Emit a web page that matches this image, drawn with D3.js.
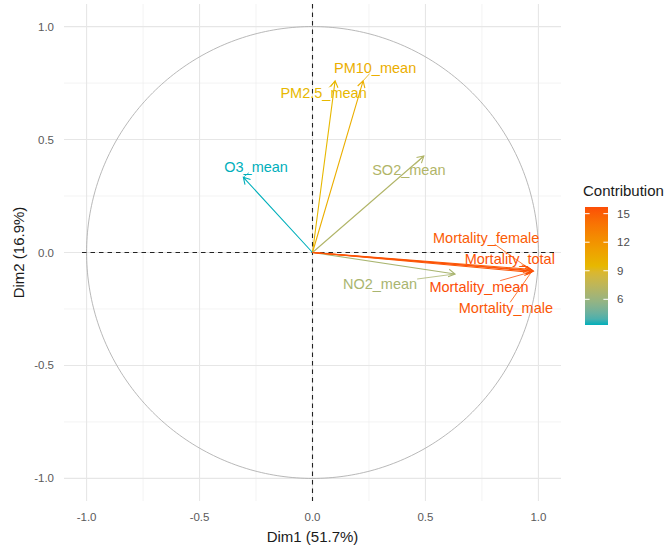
<!DOCTYPE html>
<html>
<head>
<meta charset="utf-8">
<script src="https://cdn.jsdelivr.net/npm/d3@7"></script>
<style>
  html, body { margin: 0; padding: 0; background: #fff; }
  svg { display: block; font-family: "Liberation Sans", Arial, sans-serif; }
</style>
</head>
<body>
<svg id="chart" width="670" height="548"></svg>
<script>
// Variable loadings on the first two principal dimensions
const variables = ["PM2.5_mean", "PM10_mean", "SO2_mean", "O3_mean", "NO2_mean",
                   "Mortality_female", "Mortality_total", "Mortality_mean", "Mortality_male"];
const dim1 = [0.100, 0.224, 0.493, -0.306, 0.631, 0.962, 0.975, 0.978, 0.968];
const dim2 = [0.760, 0.760, 0.427, 0.333, -0.095, -0.074, -0.080, -0.083, -0.088];
// Contribution (%) of each variable to Dim1-Dim2
const contrib = [9.5, 10.2, 6.9, 3.3, 6.6, 15.1, 15.5, 15.7, 15.3];

const axisTicks = [-1.0, -0.5, 0.0, 0.5, 1.0];
const axisTickLabels = ["-1.0", "-0.5", "0.0", "0.5", "1.0"];
const minorTicks = [-0.75, -0.25, 0.25, 0.75];
const legendTicks = [6, 9, 12, 15];
const xTitle = "Dim1 (51.7%)";
const yTitle = "Dim2 (16.9%)";
const legendTitle = "Contribution";

// Label placement (pixel offset of label centre from arrow tip), repelled by hand
const labelOffset = {
  "PM2.5_mean": [-11.5, 12.6],
  "PM10_mean": [12, -13.2],
  "SO2_mean": [-15, 14],
  "O3_mean": [12.7, -10.5],
  "NO2_mean": [-75, 10],
  "Mortality_female": [-43.6, -30.9],
  "Mortality_total": [-23, -11.6],
  "Mortality_mean": [-54.5, 15.4],
  "Mortality_male": [-25.3, 36]
};

const svg = d3.select("#chart");
const panel = { left: 64, right: 561, top: 4, bottom: 501 };

const x = d3.scaleLinear().domain([-1.1, 1.1]).range([panel.left, panel.right]);
const y = d3.scaleLinear().domain([-1.1, 1.1]).range([panel.bottom, panel.top]);

const cExtent = d3.extent(contrib);
const color = d3.scaleLinear()
  .domain([cExtent[0], (cExtent[0] + cExtent[1]) / 2, cExtent[1]])
  .range(["#00AFBB", "#E7B800", "#FC4E07"])
  .interpolate(d3.interpolateLab);

// Grid
const grid = svg.append("g");
grid.selectAll("line.minor-x").data(minorTicks).join("line")
  .attr("x1", d => x(d)).attr("x2", d => x(d))
  .attr("y1", panel.top).attr("y2", panel.bottom)
  .attr("stroke", "#ebebeb").attr("stroke-width", 0.6);
grid.selectAll("line.minor-y").data(minorTicks).join("line")
  .attr("y1", d => y(d)).attr("y2", d => y(d))
  .attr("x1", panel.left).attr("x2", panel.right)
  .attr("stroke", "#ebebeb").attr("stroke-width", 0.6);
grid.selectAll("line.major-x").data(axisTicks).join("line")
  .attr("x1", d => x(d)).attr("x2", d => x(d))
  .attr("y1", panel.top).attr("y2", panel.bottom)
  .attr("stroke", "#e6e6e6").attr("stroke-width", 1.1);
grid.selectAll("line.major-y").data(axisTicks).join("line")
  .attr("y1", d => y(d)).attr("y2", d => y(d))
  .attr("x1", panel.left).attr("x2", panel.right)
  .attr("stroke", "#e6e6e6").attr("stroke-width", 1.1);

// Correlation circle
const circlePts = d3.range(0, 361).map(a => [Math.cos(a * Math.PI / 180), Math.sin(a * Math.PI / 180)]);
svg.append("path")
  .attr("d", d3.line().x(d => x(d[0])).y(d => y(d[1]))(circlePts))
  .attr("fill", "none").attr("stroke", "#a6a6a6").attr("stroke-width", 0.8);

// Reference lines at zero
svg.append("line")
  .attr("x1", panel.left + 18).attr("x2", panel.right - 6)
  .attr("y1", y(0)).attr("y2", y(0))
  .attr("stroke", "#222").attr("stroke-width", 1.1).attr("stroke-dasharray", "4.5,4");
svg.append("line")
  .attr("x1", x(0)).attr("x2", x(0))
  .attr("y1", panel.top).attr("y2", panel.bottom)
  .attr("stroke", "#222").attr("stroke-width", 1.1).attr("stroke-dasharray", "4.5,4");

// Arrows
const rows = variables.map((v, i) => ({ name: v, d1: dim1[i], d2: dim2[i], c: contrib[i] }));
const headLen = 7.5, headAng = Math.PI / 6;
function arrowPath(d) {
  const x0 = x(0), y0 = y(0), x1 = x(d.d1), y1 = y(d.d2);
  const th = Math.atan2(y1 - y0, x1 - x0);
  const ax = x1 - headLen * Math.cos(th - headAng), ay = y1 - headLen * Math.sin(th - headAng);
  const bx = x1 - headLen * Math.cos(th + headAng), by = y1 - headLen * Math.sin(th + headAng);
  return `M${x0},${y0}L${x1},${y1}M${ax},${ay}L${x1},${y1}L${bx},${by}`;
}
svg.append("g").selectAll("path").data(rows).join("path")
  .attr("d", arrowPath)
  .attr("fill", "none")
  .attr("stroke", d => color(d.c))
  .attr("stroke-width", 1.1)
  .attr("stroke-linejoin", "miter");

// Labels with connector segments
const labelG = svg.append("g");
const segG = labelG.append("g");
const texts = labelG.selectAll("text").data(rows).join("text")
  .attr("x", d => x(d.d1) + labelOffset[d.name][0])
  .attr("y", d => y(d.d2) + labelOffset[d.name][1])
  .attr("text-anchor", "middle")
  .attr("dominant-baseline", "central")
  .attr("font-size", 14.5)
  .attr("fill", d => color(d.c))
  .text(d => d.name);

texts.each(function (d) {
  const bb = this.getBBox();
  const tx = x(d.d1), ty = y(d.d2);
  const cx = bb.x + bb.width / 2, cy = bb.y + bb.height / 2;
  const hw = bb.width / 2, hh = bb.height / 2 - 2;
  const dx = cx - tx, dy = cy - ty;
  // fraction along tip->centre where the box edge is reached
  const tX = Math.abs(dx) > 1e-6 ? (Math.abs(dx) - hw) / Math.abs(dx) : -1;
  const tY = Math.abs(dy) > 1e-6 ? (Math.abs(dy) - hh) / Math.abs(dy) : -1;
  const t = Math.max(tX, tY);
  if (t <= 0) return;
  const ex = tx + dx * t, ey = ty + dy * t;
  const len = Math.hypot(ex - tx, ey - ty);
  if (len < 7) return;
  segG.append("line")
    .attr("x1", tx).attr("y1", ty).attr("x2", ex).attr("y2", ey)
    .attr("stroke", color(d.c)).attr("stroke-width", 0.8);
});

// Axis tick labels
svg.append("g").selectAll("text").data(axisTicks).join("text")
  .attr("x", d => x(d)).attr("y", 517)
  .attr("text-anchor", "middle").attr("dominant-baseline", "central")
  .attr("font-size", 11.5).attr("fill", "#5a5a5a")
  .text((d, i) => axisTickLabels[i]);
svg.append("g").selectAll("text").data(axisTicks).join("text")
  .attr("x", 54).attr("y", d => y(d))
  .attr("text-anchor", "end").attr("dominant-baseline", "central")
  .attr("font-size", 11.5).attr("fill", "#5a5a5a")
  .text((d, i) => axisTickLabels[i]);

// Axis titles
svg.append("text")
  .attr("x", x(0)).attr("y", 536)
  .attr("text-anchor", "middle").attr("dominant-baseline", "central")
  .attr("font-size", 15).attr("fill", "#1a1a1a")
  .text(xTitle);
svg.append("text")
  .attr("transform", `translate(18,${y(0)}) rotate(-90)`)
  .attr("text-anchor", "middle").attr("dominant-baseline", "central")
  .attr("font-size", 15).attr("fill", "#1a1a1a")
  .text(yTitle);

// Colour bar legend
const bar = { x: 585, w: 23, top: 207, bottom: 325 };
const ly = d3.scaleLinear().domain(cExtent).range([bar.bottom, bar.top]);
const grad = svg.append("defs").append("linearGradient")
  .attr("id", "contribGrad").attr("x1", 0).attr("y1", 1).attr("x2", 0).attr("y2", 0);
grad.selectAll("stop").data(d3.range(0, 1.0001, 0.05)).join("stop")
  .attr("offset", d => d)
  .attr("stop-color", d => color(cExtent[0] + d * (cExtent[1] - cExtent[0])));
svg.append("rect")
  .attr("x", bar.x).attr("y", bar.top).attr("width", bar.w).attr("height", bar.bottom - bar.top)
  .attr("fill", "url(#contribGrad)");
const lt = svg.append("g").selectAll("g").data(legendTicks).join("g");
lt.append("line")
  .attr("x1", bar.x).attr("x2", bar.x + bar.w / 5)
  .attr("y1", d => ly(d)).attr("y2", d => ly(d))
  .attr("stroke", "#fff").attr("stroke-width", 1);
lt.append("line")
  .attr("x1", bar.x + bar.w - bar.w / 5).attr("x2", bar.x + bar.w)
  .attr("y1", d => ly(d)).attr("y2", d => ly(d))
  .attr("stroke", "#fff").attr("stroke-width", 1);
lt.append("text")
  .attr("x", bar.x + bar.w + 9).attr("y", d => ly(d))
  .attr("dominant-baseline", "central")
  .attr("font-size", 11.5).attr("fill", "#4d4d4d")
  .text(d => d);
svg.append("text")
  .attr("x", 583).attr("y", 190)
  .attr("dominant-baseline", "central")
  .attr("font-size", 15).attr("fill", "#1a1a1a")
  .text(legendTitle);
</script>
</body>
</html>
